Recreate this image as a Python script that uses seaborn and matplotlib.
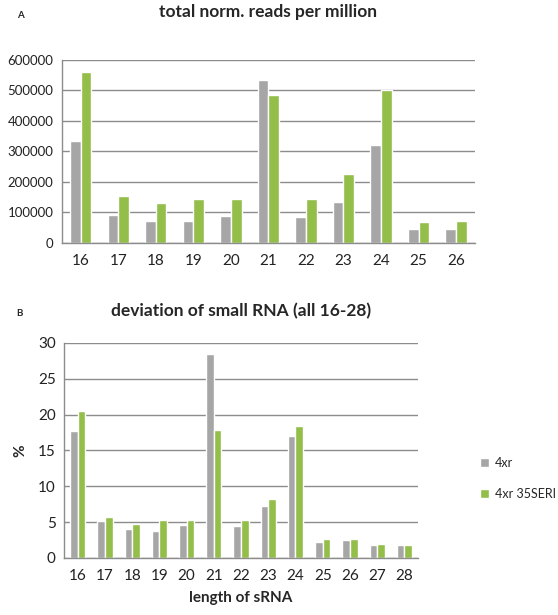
import pandas as pd
import numpy as np
import matplotlib.pyplot as plt
import seaborn as sns
from matplotlib.patches import Patch

sns.set_style('white')
plt.rcParams['font.family'] = ['Lato', 'DejaVu Sans']

# panel A: total normalised reads per million
lengths_a = ['16', '17', '18', '19', '20', '21', '22', '23', '24', '25', '26']
reads_4xr = [335000, 92000, 72000, 72000, 88000, 535000, 85000, 135000, 320000, 46000, 46000]
reads_35seri = [559000, 155000, 131000, 143000, 143000, 484000, 143000, 225000, 502000, 68000, 72000]

# panel B: deviation of small RNA (%)
lengths_b = ['16', '17', '18', '19', '20', '21', '22', '23', '24', '25', '26', '27', '28']
pct_4xr = [17.7, 5.1, 4.0, 3.8, 4.6, 28.4, 4.45, 7.2, 17.05, 2.27, 2.45, 1.76, 1.76]
pct_35seri = [20.5, 5.65, 4.8, 5.3, 5.3, 17.9, 5.3, 8.25, 18.4, 2.64, 2.64, 1.95, 1.76]

lines = ['4xr', '4xr 35SERI']
colors = ['#A6A6A6', '#93BE4A']

df_a = pd.DataFrame({'length': lengths_a * 2,
                     'value': reads_4xr + reads_35seri,
                     'line': [lines[0]] * len(lengths_a) + [lines[1]] * len(lengths_a)})
df_b = pd.DataFrame({'length': lengths_b * 2,
                     'value': pct_4xr + pct_35seri,
                     'line': [lines[0]] * len(lengths_b) + [lines[1]] * len(lengths_b)})

fig = plt.figure(figsize=(5.58, 6.15), dpi=100)
ax_a = fig.add_axes([0.111, 0.605, 0.740, 0.2976])
ax_b = fig.add_axes([0.115, 0.0927, 0.634, 0.3496])


def style_axes(ax, n, ymax, step, ysize):
    ax.set_xlim(-0.5, n - 0.5)
    ax.set_ylim(0, ymax)
    ticks = np.arange(0, ymax + step / 2, step)
    ax.set_yticks(ticks)
    ax.set_yticklabels([f'{int(v)}' for v in ticks])
    ax.yaxis.grid(True, color='#8C8C8C', linewidth=1.0)
    ax.set_axisbelow(True)
    for s in ['top', 'right']:
        ax.spines[s].set_visible(False)
    for s in ['left', 'bottom']:
        ax.spines[s].set_color('#8C8C8C')
        ax.spines[s].set_linewidth(1.0)
    ax.set_xticks(np.arange(-0.5, n, 1.0), minor=True)
    ax.tick_params(axis='x', which='major', length=0, labelsize=11, pad=8, labelcolor='#222222')
    ax.tick_params(axis='x', which='minor', length=5, color='#8C8C8C', width=1)
    ax.tick_params(axis='y', length=4, color='#8C8C8C', width=1, labelsize=ysize,
                   pad=2, labelcolor='#222222')
    ax.set_xlabel('')
    ax.set_ylabel('')


sns.barplot(data=df_a, x='length', y='value', hue='line', palette=colors,
            width=0.57, saturation=1, ax=ax_a, legend=False)
style_axes(ax_a, len(lengths_a), 600000, 100000, 9.5)
ax_a.set_title('total norm. reads per million', fontsize=12.5, fontweight='bold', pad=0,
               y=1.0 + 43 / 183)
fig.text(0.03, 0.975, 'A', fontsize=7, fontweight='bold', va='center')

sns.barplot(data=df_b, x='length', y='value', hue='line', palette=colors,
            width=0.56, saturation=1, ax=ax_b, legend=False)
style_axes(ax_b, len(lengths_b), 30, 5, 11)
ax_b.set_title('deviation of small RNA (all 16-28)', fontsize=12.5, fontweight='bold', pad=19)
ax_b.set_xlabel('length of sRNA', fontsize=11, fontweight='bold', labelpad=6)
ax_b.set_ylabel('%', fontsize=11, fontweight='bold', labelpad=8)
fig.text(0.03, 0.49, 'B', fontsize=7, fontweight='bold', va='center')

handles = [Patch(facecolor=c, label=l) for c, l in zip(colors, lines)]
fig.legend(handles=handles, loc='center left', bbox_to_anchor=(0.84, 0.222),
           frameon=False, fontsize=9, handlelength=0.7, handleheight=0.7,
           handletextpad=0.5, labelspacing=1.5)

fig.savefig('out.png', dpi=100)
